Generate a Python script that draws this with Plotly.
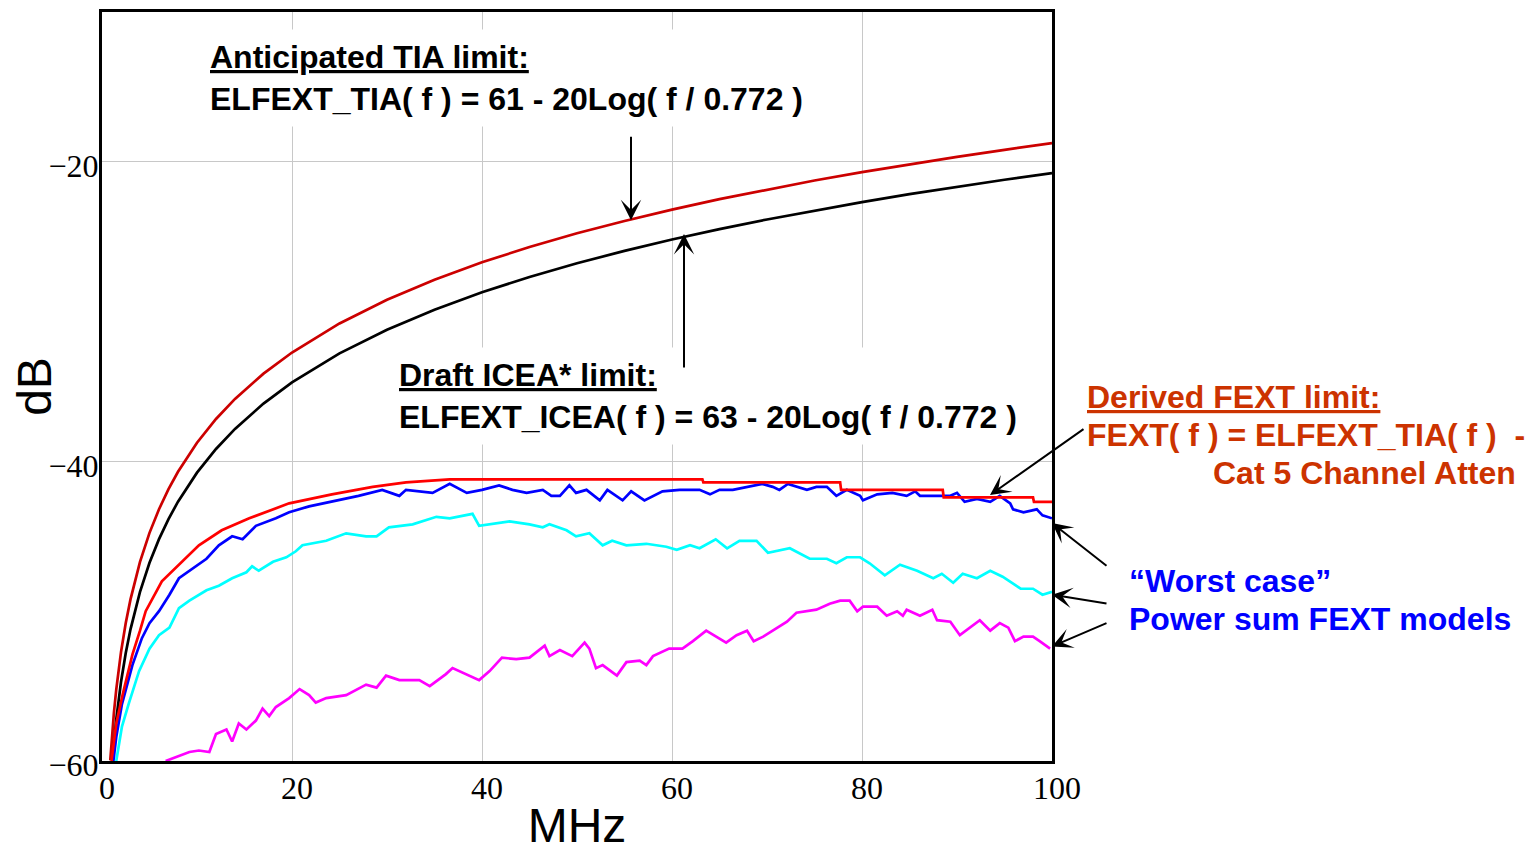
import plotly.graph_objects as go

# ---------------- data ----------------
tia_f = [0.87, 1.0, 1.25, 1.5, 2, 2.5, 3, 4, 5, 6, 7, 8, 10, 12, 14, 17, 20, 25, 30, 35,
         40, 45, 50, 55, 60, 65, 70, 75, 80, 85, 90, 95, 100]
tia_db = [-59.96, -58.75, -56.81, -55.23, -52.73, -50.79, -49.21, -46.71, -44.77, -43.19,
          -41.85, -40.69, -38.75, -37.17, -35.83, -34.14, -32.73, -30.79, -29.21, -27.87,
          -26.71, -25.69, -24.77, -23.95, -23.19, -22.49, -21.85, -21.25, -20.69, -20.16,
          -19.67, -19.20, -18.75]

icea_f = [1.1, 1.25, 1.5, 2, 2.5, 3, 4, 5, 6, 7, 8, 10, 12, 14, 17, 20, 25, 30, 35,
          40, 45, 50, 55, 60, 65, 70, 75, 80, 85, 90, 95, 100]
icea_db = [-59.92, -58.81, -57.23, -54.73, -52.79, -51.21, -48.71, -46.77, -45.19,
           -43.85, -42.69, -40.75, -39.17, -37.83, -36.14, -34.73, -32.79, -31.21, -29.87,
           -28.71, -27.69, -26.77, -25.95, -25.19, -24.49, -23.85, -23.25, -22.69, -22.16,
           -21.67, -21.20, -20.75]

fext_f = [1.0, 1.5, 2.2, 3.2, 4.0, 4.6, 6.3, 8.4, 10.2, 12.6, 15.5, 19.7, 24.2, 28.5, 32,
          36.6, 41.8, 50, 63.2, 63.3, 77.7, 77.8, 88.5, 88.6, 98, 98.1, 100]
fext_db = [-60, -57.5, -55.5, -52.9, -51.3, -50, -48, -46.7, -45.6, -44.6, -43.8, -42.8,
           -42.2, -41.7, -41.4, -41.2, -41.2, -41.2, -41.2, -41.4, -41.4, -41.9, -41.9,
           -42.4, -42.4, -42.7, -42.7]

blue_f = [1.2, 1.5, 2.1, 3.2, 4.2, 5, 6, 7.1, 8.1, 9.9, 11, 12.3, 13.7, 14.8, 16.2, 18.3,
          19.7, 21.8, 24.2, 27, 29.5, 31.3, 32, 34.8, 36.6, 38.4, 40, 41.8, 43.2, 44.7,
          46.4, 47.3, 48.2, 49.2, 49.9, 51, 52.4, 53.2, 54.8, 55.7, 57.1, 59, 60.8, 62.9,
          64, 65, 66.4, 67.9, 69.5, 70.6, 71.3, 72.2, 74.2, 75.2, 76.3, 77.3, 78.4, 79.8,
          80.1, 81.6, 83.2, 84.7, 85.6, 86.1, 89.3, 90, 90.8, 92.1, 93.5, 94.5, 95.6, 95.9,
          97, 98.4, 99, 100]
blue_db = [-60, -58.4, -56.2, -53.6, -51.8, -50.8, -50, -48.9, -47.8, -47, -46.5, -45.6,
           -45, -45.2, -44.3, -43.8, -43.4, -43, -42.7, -42.3, -41.9, -42.3, -41.9, -42.1,
           -41.5, -42.1, -41.9, -41.6, -41.9, -42.1, -41.9, -42.3, -42.3, -41.6, -42.1,
           -41.9, -42.6, -41.9, -42.6, -42, -42.6, -42, -41.9, -41.9, -42.2, -41.9, -41.9,
           -41.7, -41.5, -41.7, -41.9, -41.5, -41.9, -41.7, -41.7, -42.3, -41.9, -42.3,
           -42.6, -42.2, -42.1, -42.3, -42, -42.3, -42.3, -42.1, -42.7, -42.5, -42.7, -42.3,
           -42.8, -43.2, -43.4, -43.2, -43.6, -43.8]

cyan_f = [1.5, 2.1, 2.8, 3.9, 5, 6, 7.1, 8.1, 9.2, 10.2, 11, 12.3, 13.7, 15.2, 15.8, 16.5,
          18, 19.4, 20.4, 21.1, 23.6, 25.7, 27.8, 28.9, 30.2, 32.7, 35.2, 36.6, 39, 39.7,
          42.9, 45, 46.4, 47.1, 48.9, 49.9, 51.3, 52.7, 53.7, 55.2, 57.3, 59.4, 60.5, 61.9,
          62.9, 64.6, 65.8, 67.1, 68.9, 70.1, 72.4, 74.5, 76.3, 77.3, 78.4, 79.8, 80.8, 82.4,
          84, 85.8, 87.5, 88.4, 89.6, 90.6, 92.1, 93.5, 94.8, 96.7, 98, 99, 100]
cyan_db = [-60, -57.7, -56.2, -54, -52.5, -51.6, -51.1, -49.8, -49.3, -48.9, -48.6, -48.3,
           -47.8, -47.4, -47, -47.3, -46.7, -46.4, -46, -45.6, -45.3, -44.8, -45, -45, -44.4,
           -44.2, -43.7, -43.8, -43.5, -44.3, -44, -44.2, -44.4, -44.2, -44.6, -45, -44.8,
           -45.6, -45.3, -45.6, -45.5, -45.7, -45.9, -45.6, -45.8, -45.2, -45.8, -45.3,
           -45.3, -46.1, -45.8, -46.5, -46.5, -46.8, -46.4, -46.4, -46.8, -47.6, -46.9,
           -47.3, -47.8, -47.5, -48.1, -47.5, -47.8, -47.3, -47.7, -48.5, -48.5, -48.9, -48.7]

mag_f = [6.7, 8.5, 9.2, 10.2, 11.3, 12, 13.1, 13.7, 14.4, 15.2, 16.2, 16.9, 17.6, 18.3,
         19.7, 20.8, 21.8, 22.5, 23.6, 25.7, 27.8, 28.9, 29.9, 31.3, 33.4, 34.5, 36.2, 36.9,
         38.4, 39.7, 40.8, 42.1, 43.6, 45, 46.6, 47.1, 48.2, 49.5, 50.8, 51.3, 52, 52.7,
         54.2, 55.2, 56.6, 57.3, 58, 59.7, 61.1, 62.2, 63.6, 65, 65.7, 66.8, 67.9, 68.6,
         69.6, 70.6, 72.1, 73.1, 75.2, 76.6, 77.7, 78.7, 79.5, 80.1, 81.6, 82.6, 83.7,
         84.3, 84.7, 86.1, 87.4, 87.9, 89.3, 90.3, 91.4, 92.4, 93.5, 94.5, 95.4, 96.1, 97,
         98, 98.7, 99.8]
mag_db = [-60, -59.6, -59.4, -59.3, -59.4, -58.2, -57.9, -58.7, -57.5, -57.9, -57.3, -56.5,
          -57, -56.4, -55.8, -55.2, -55.6, -56.1, -55.8, -55.6, -54.9, -55.1, -54.3, -54.6,
          -54.6, -55, -54.2, -53.8, -54.2, -54.6, -54, -53.1, -53.2, -53.1, -52.3, -53,
          -52.6, -53, -52.1, -52.5, -53.8, -53.6, -54.3, -53.4, -53.3, -53.6, -53, -52.5,
          -52.5, -52, -51.3, -51.8, -52.1, -51.6, -51.3, -52, -51.7, -51.3, -50.7, -50.1,
          -49.9, -49.5, -49.3, -49.3, -50, -49.7, -49.7, -50.3, -50, -50.3, -49.9, -50.3,
          -49.9, -50.6, -50.7, -51.6, -51.1, -50.6, -51.3, -50.8, -51.1, -52, -51.7, -51.7,
          -52, -52.5]

x_ticks = [0, 20, 40, 60, 80, 100]
y_ticks = [-60, -40, -20]

# ---------------- layout helpers (page pixel coordinates) ----------------
PAGE_OFF = 8                      # default body margin of the html page
W, H = 1539 - PAGE_OFF, 852 - PAGE_OFF
L, R, T, B = 102, 1052, 9, 761    # plot-area edges on the page


def px(xp):
    return (xp - L) / (R - L)


def py(yp):
    return (B - yp) / (B - T)


fig = go.Figure()
series = [
    (tia_f, tia_db, "#CC0000", "ELFEXT_TIA"),
    (icea_f, icea_db, "#000000", "ELFEXT_ICEA"),
    (mag_f, mag_db, "#FF00FF", "PS FEXT model 3"),
    (cyan_f, cyan_db, "#00FFFF", "PS FEXT model 2"),
    (blue_f, blue_db, "#0000FF", "PS FEXT model 1"),
    (fext_f, fext_db, "#FF0000", "Derived FEXT"),
]
for xs, ys, col, name in series:
    fig.add_trace(go.Scatter(x=xs, y=ys, mode="lines", name=name,
                             line=dict(color=col, width=2.7), showlegend=False))

SANS = "Liberation Sans, Arial, sans-serif"
SERIF = "Liberation Serif, Times New Roman, serif"
FS = 32

ann = []
# black text blocks with white backgrounds (hide gridlines)
ann.append(dict(xref="paper", yref="paper", x=px(200), y=py(75), xanchor="left",
                yanchor="middle", align="left", showarrow=False, bgcolor="white",
                borderpad=9,
                text="<b><u>Anticipated TIA limit:</u></b><br><b>ELFEXT_TIA( f ) = 61 - 20Log( f / 0.772 )</b>",
                font=dict(family=SANS, size=FS, color="black")))
ann.append(dict(xref="paper", yref="paper", x=px(389), y=py(395), xanchor="left",
                yanchor="middle", align="left", showarrow=False, bgcolor="white",
                borderpad=9,
                text="<b><u>Draft ICEA* limit:</u></b><br><b>ELFEXT_ICEA( f ) = 63 - 20Log( f / 0.772 )</b>",
                font=dict(family=SANS, size=FS, color="black")))

RED = "#CC3300"
BLUE = "#0000FF"
for txt, xl, yc, col in [
    ("<b><u>Derived FEXT limit:</u></b>", 1086, 396, RED),
    ("<b>FEXT( f ) = ELFEXT_TIA( f )\u00a0 -</b>", 1086, 434, RED),
    ("<b>Cat 5 Channel Atten</b>", 1212, 472, RED),
    ("<b>\u201cWorst case\u201d</b>", 1128, 580, BLUE),
    ("<b>Power sum FEXT models</b>", 1128, 618, BLUE),
]:
    ann.append(dict(xref="paper", yref="paper", x=px(xl), y=py(yc), xanchor="left",
                    yanchor="middle", align="left", showarrow=False, text=txt,
                    borderpad=0, font=dict(family=SANS, size=FS, color=col)))

# arrows: (head x, head y, tail x, tail y) in page pixels
arrows = [(631, 218, 631, 133), (684, 232, 684, 367), (990, 494, 1085, 427),
          (1052, 522, 1108, 566), (1052, 594, 1108, 603), (1052, 646, 1108, 622)]
for hx, hy, tx, ty in arrows:
    ann.append(dict(xref="paper", yref="paper", x=px(hx), y=py(hy), ax=tx - hx,
                    ay=ty - hy, axref="pixel", ayref="pixel", text="", showarrow=True,
                    arrowhead=3, arrowsize=1.7, arrowwidth=2, arrowcolor="black",
                    standoff=0, startstandoff=0))

fig.update_layout(
    width=W, height=H,
    margin=dict(l=L - PAGE_OFF, r=W - (R - PAGE_OFF), t=T - PAGE_OFF,
                b=H - (B - PAGE_OFF), pad=0),
    paper_bgcolor="white", plot_bgcolor="white",
    annotations=ann,
    showlegend=False,
)
fig.update_xaxes(range=[0, 100], tickvals=x_ticks, showgrid=True, gridcolor="#C8C8C8",
                 gridwidth=1.2, zeroline=False, showline=True, linecolor="black",
                 linewidth=3, mirror=True, ticks="", ticklabelshift=5,
                 ticklabelstandoff=-3,
                 tickfont=dict(family=SERIF, size=32, color="black"),
                 title=dict(text="MHz", font=dict(family=SANS, size=48, color="black"),
                            standoff=8))
fig.update_yaxes(range=[-60, -10], tickvals=y_ticks, showgrid=True, gridcolor="#C8C8C8",
                 gridwidth=1.2, zeroline=False, showline=True, linecolor="black",
                 linewidth=3, mirror=True, ticks="", ticklabelshift=4,
                 ticklabelstandoff=-6,
                 tickfont=dict(family=SERIF, size=32, color="black"),
                 title=dict(text="dB", font=dict(family=SANS, size=48, color="black"),
                            standoff=0))

fig.write_html("out.html")
